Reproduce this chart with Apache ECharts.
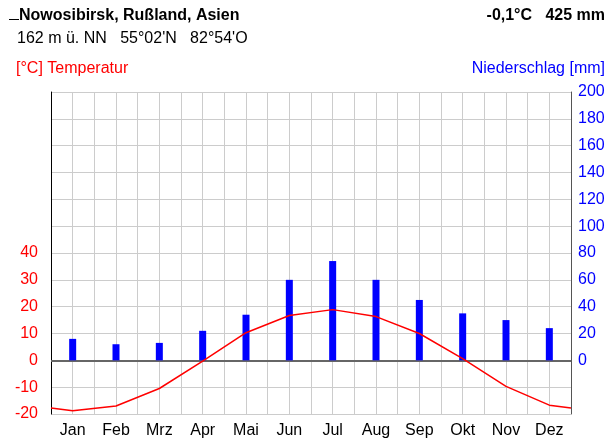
<!DOCTYPE html>
<html>
<head>
<meta charset="utf-8">
<script src="https://cdn.jsdelivr.net/npm/echarts@6/dist/echarts.min.js"></script>
<style>
  html, body { margin: 0; padding: 0; background: #fff; }
  #chart { width: 612px; height: 439px; }
</style>
</head>
<body>
<div id="chart"></div>
<script>
// Klimadiagramm Nowosibirsk
const months = ['Jan', 'Feb', 'Mrz', 'Apr', 'Mai', 'Jun', 'Jul', 'Aug', 'Sep', 'Okt', 'Nov', 'Dez'];
const temperature = [-18.8, -17.0, -10.5, -0.3, 10.3, 16.7, 18.9, 16.3, 10.0, 0.6, -9.7, -16.7];
const precipitation = [16, 12, 13, 22, 34, 60, 74, 60, 45, 35, 30, 24];
const tempTicks = [-20, -10, 0, 10, 20, 30, 40];
const precTicks = [0, 20, 40, 60, 80, 100, 120, 140, 160, 180, 200];

const FONT = "'Liberation Sans', Arial, sans-serif";

// Temperature curve on a continuous month scale; the curve wraps from Dez to Jan at the edges.
const edge = (temperature[0] + temperature[11]) / 2;
const tempLine = [[0, edge]];
temperature.forEach((t, i) => tempLine.push([i + 0.5, t]));
tempLine.push([12, edge]);

const chart = echarts.init(document.getElementById('chart'), null, { renderer: 'canvas' });

chart.setOption({
  animation: false,
  backgroundColor: '#fff',
  textStyle: { fontFamily: FONT },
  grid: { left: 51, right: 41, top: 92, bottom: 23, containLabel: false },
  graphic: [
    { type: 'line', shape: { x1: 9, y1: 19.5, x2: 19, y2: 19.5 }, style: { stroke: '#000', lineWidth: 1 } },
    { type: 'text', left: 19, top: 8, style: { text: 'Nowosibirsk, Rußland, Asien', font: 'bold 16px ' + FONT, fill: '#000' } },
    { type: 'text', right: 7, top: 8, style: { text: '-0,1°C   425 mm', font: 'bold 16px ' + FONT, fill: '#000' } },
    { type: 'text', left: 17, top: 31, style: { text: "162 m ü. NN   55°02'N   82°54'O", font: '16px ' + FONT, fill: '#000' } },
    { type: 'text', left: 16, top: 61, style: { text: '[°C] Temperatur', font: '16px ' + FONT, fill: '#ff0000' } },
    { type: 'text', right: 7, top: 61, style: { text: 'Niederschlag [mm]', font: '16px ' + FONT, fill: '#0000ff' } }
  ],
  xAxis: [
    {
      type: 'category',
      data: months,
      boundaryGap: true,
      axisLine: { show: false },
      axisTick: { show: false },
      splitLine: { show: false },
      axisLabel: { color: '#000', fontSize: 16, fontFamily: FONT, margin: 9 }
    },
    {
      type: 'value',
      min: 0, max: 12, interval: 0.5,
      position: 'bottom',
      axisLine: { show: false },
      axisTick: { show: false },
      axisLabel: { show: false },
      splitLine: { show: true, lineStyle: { color: '#cccccc', width: 1 } }
    }
  ],
  yAxis: [
    {
      type: 'value',
      position: 'left',
      min: -20, max: 100, interval: 10,
      axisLine: { show: true, lineStyle: { color: '#000', width: 1 } },
      axisTick: { show: false },
      splitLine: { show: true, lineStyle: { color: '#cccccc', width: 1 } },
      axisLabel: {
        color: '#ff0000', fontSize: 16, fontFamily: FONT, margin: 13,
        formatter: v => tempTicks.includes(v) ? String(v) : ''
      }
    },
    {
      type: 'value',
      position: 'right',
      min: -40, max: 200, interval: 20,
      axisLine: { show: true, lineStyle: { color: '#555', width: 1 } },
      axisTick: { show: false },
      splitLine: { show: false },
      axisLabel: {
        color: '#0000ff', fontSize: 16, fontFamily: FONT, margin: 7,
        formatter: v => precTicks.includes(v) ? String(v) : ''
      }
    }
  ],
  series: [
    {
      name: 'Niederschlag',
      type: 'bar',
      xAxisIndex: 0,
      yAxisIndex: 1,
      data: precipitation,
      barWidth: 7,
      itemStyle: { color: '#0000ff' },
      z: 3
    },
    {
      name: 'Temperatur',
      type: 'line',
      xAxisIndex: 1,
      yAxisIndex: 0,
      data: tempLine,
      symbol: 'none',
      lineStyle: { color: '#ff0000', width: 1.5 },
      z: 4,
      markLine: {
        silent: true,
        symbol: 'none',
        label: { show: false },
        lineStyle: { color: '#666', width: 2, type: 'solid' },
        data: [{ yAxis: 0 }],
        z: 2
      }
    }
  ]
});
</script>
</body>
</html>
